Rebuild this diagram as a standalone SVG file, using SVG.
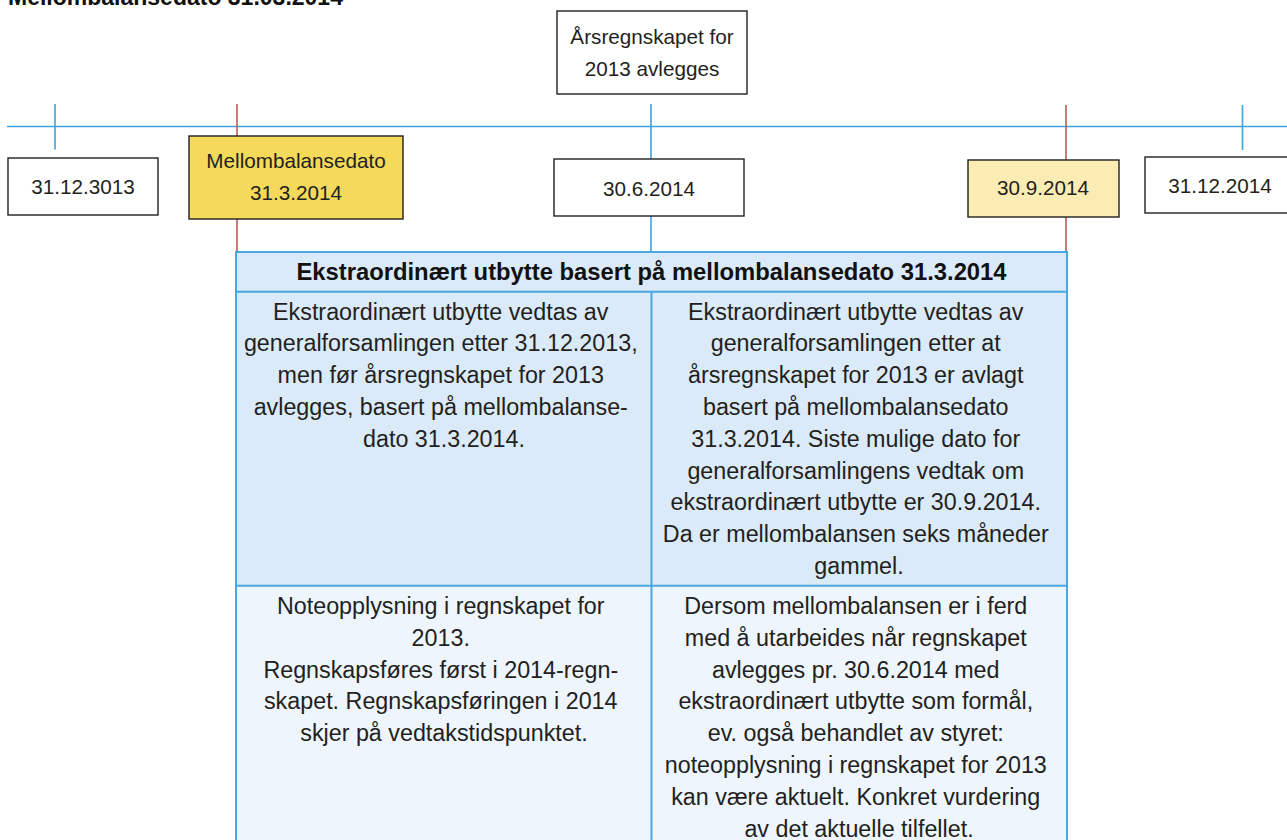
<svg xmlns="http://www.w3.org/2000/svg" width="1287" height="840" viewBox="0 0 1287 840">
<style>
.tl{stroke:#3ea3dd;stroke-width:1.6;fill:none}
.red{stroke:#bf5a5a;stroke-width:1.6;fill:none}
.box{stroke:#231f20;stroke-width:1.4}
.bt{font-family:"Liberation Sans",Arial,sans-serif;font-size:20.7px;fill:#231f20;text-anchor:middle}
.tt{font-family:"Liberation Sans",Arial,sans-serif;font-size:23.3px;fill:#231f20;text-anchor:middle}
.th{font-family:"Liberation Sans",Arial,sans-serif;font-size:23.8px;font-weight:bold;fill:#111;text-anchor:middle}
.grid{stroke:#4aa8e0;stroke-width:2;fill:none}
</style>
<rect width="1287" height="840" fill="#fff"/>
<text x="8" y="4.5" font-family="Liberation Sans, Arial, sans-serif" font-size="23" font-weight="bold" fill="#111">Mellombalansedato 31.03.2014</text>
<g id="connectors">
<line class="tl" x1="7" y1="126.5" x2="1287" y2="126.5"/>
<line class="tl" x1="55" y1="104" x2="55" y2="149.5"/>
<line class="tl" x1="1242.5" y1="105" x2="1242.5" y2="150"/>
<line class="tl" x1="651" y1="104" x2="651" y2="252"/>
<line class="red" x1="237" y1="104" x2="237" y2="252"/>
<line class="red" x1="1066" y1="105" x2="1066" y2="252"/>
</g>
<g id="n-arsregnskap">
<rect class="box" x="557" y="11" width="190" height="83" fill="#fff"/>
<text class="bt" x="652" y="44">Årsregnskapet for</text>
<text class="bt" x="652" y="76">2013 avlegges</text>
</g>
<g id="n-d1">
<rect class="box" x="8" y="158" width="150" height="57" fill="#fff"/>
<text class="bt" x="83" y="194">31.12.3013</text>
</g>
<g id="n-d2">
<rect class="box" x="189" y="136" width="214" height="83" fill="#f5d95a"/>
<text class="bt" x="296" y="167.5">Mellombalansedato</text>
<text class="bt" x="296" y="200">31.3.2014</text>
</g>
<g id="n-d3">
<rect class="box" x="554" y="159" width="190" height="57" fill="#fff"/>
<text class="bt" x="649" y="195.5">30.6.2014</text>
</g>
<g id="n-d4">
<rect class="box" x="968" y="160" width="151" height="57" fill="#fbecb4"/>
<text class="bt" x="1043" y="195">30.9.2014</text>
</g>
<g id="n-d5">
<rect class="box" x="1145" y="157" width="150" height="56" fill="#fff"/>
<text class="bt" x="1220" y="192.5">31.12.2014</text>
</g>
<g id="n-table">
<rect x="236" y="252" width="831" height="334" fill="#dbeaf8"/>
<rect x="236" y="586" width="831" height="260" fill="#eef5fc"/>
<rect class="grid" x="236" y="252" width="831" height="600"/>
<line class="grid" x1="236" y1="291.7" x2="1067" y2="291.7"/>
<line class="grid" x1="236" y1="585.7" x2="1067" y2="585.7"/>
<line class="grid" x1="651.5" y1="291.7" x2="651.5" y2="852"/>
<text class="th" x="651.5" y="280">Ekstraordinært utbytte basert på mellombalansedato 31.3.2014</text>
<text class="tt" x="444">
<tspan x="444" y="319.5">Ekstraordinært utbytte vedtas av</tspan>
<tspan x="444" y="351.3">generalforsamlingen etter 31.12.2013,</tspan>
<tspan x="444" y="383.1">men før årsregnskapet for 2013</tspan>
<tspan x="444" y="414.9">avlegges, basert på mellombalanse-</tspan>
<tspan x="444" y="446.7">dato 31.3.2014.</tspan>
</text>
<text class="tt" x="859">
<tspan x="859" y="319.5">Ekstraordinært utbytte vedtas av</tspan>
<tspan x="859" y="351.3">generalforsamlingen etter at</tspan>
<tspan x="859" y="383.1">årsregnskapet for 2013 er avlagt</tspan>
<tspan x="859" y="414.9">basert på mellombalansedato</tspan>
<tspan x="859" y="446.7">31.3.2014. Siste mulige dato for</tspan>
<tspan x="859" y="478.5">generalforsamlingens vedtak om</tspan>
<tspan x="859" y="510.3">ekstraordinært utbytte er 30.9.2014.</tspan>
<tspan x="859" y="542.1">Da er mellombalansen seks måneder</tspan>
<tspan x="859" y="573.9">gammel.</tspan>
</text>
<text class="tt" x="444">
<tspan x="444" y="614">Noteopplysning i regnskapet for</tspan>
<tspan x="444" y="645.8">2013.</tspan>
<tspan x="444" y="677.6">Regnskapsføres først i 2014-regn-</tspan>
<tspan x="444" y="709.4">skapet. Regnskapsføringen i 2014</tspan>
<tspan x="444" y="741.2">skjer på vedtakstidspunktet.</tspan>
</text>
<text class="tt" x="859">
<tspan x="859" y="614">Dersom mellombalansen er i ferd</tspan>
<tspan x="859" y="645.8">med å utarbeides når regnskapet</tspan>
<tspan x="859" y="677.6">avlegges pr. 30.6.2014 med</tspan>
<tspan x="859" y="709.4">ekstraordinært utbytte som formål,</tspan>
<tspan x="859" y="741.2">ev. også behandlet av styret:</tspan>
<tspan x="859" y="773">noteopplysning i regnskapet for 2013</tspan>
<tspan x="859" y="804.8">kan være aktuelt. Konkret vurdering</tspan>
<tspan x="859" y="836.6">av det aktuelle tilfellet.</tspan>
</text>
</g>
</svg>
